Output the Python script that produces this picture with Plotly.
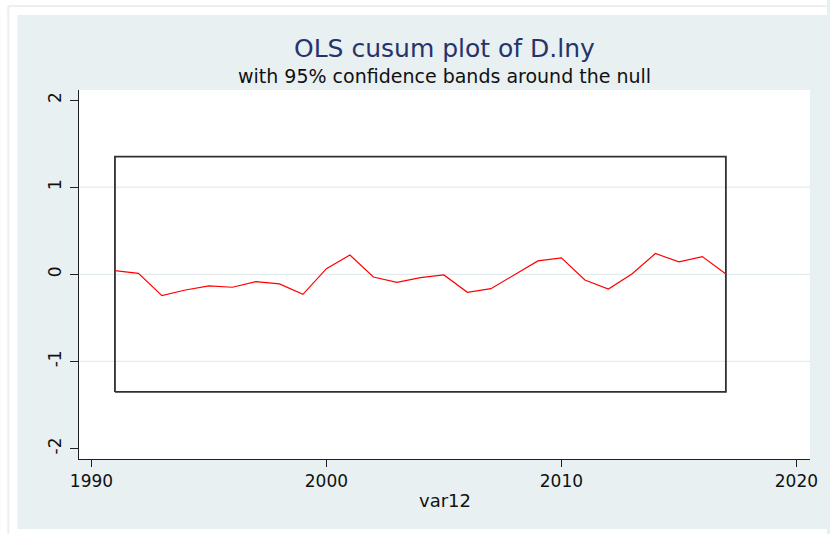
import plotly.graph_objects as go

# ---- data ----
years = list(range(1991, 2018))
cusum = [0.042, 0.011, -0.245, -0.18, -0.134, -0.149, -0.084, -0.111, -0.23,
         0.065, 0.222, -0.031, -0.092, -0.038, -0.008, -0.207, -0.165, -0.008,
         0.153, 0.188, -0.065, -0.169, 0.004, 0.238, 0.142, 0.203, 0.004]
band_years = [1991, 2017]
band_upper = 1.35
band_lower = -1.35
x_ticks = [1990, 2000, 2010, 2020]
y_ticks = [-2, -1, 0, 1, 2]
grid_vals = [-1, 0, 1]

W, H = 830, 534
L, R, T, B = 79, 17, 90, 75
PANEL = "#e8f0f2"
FONT = "DejaVu Sans"

fig = go.Figure()

# confidence band box
bx = [band_years[0], band_years[0], band_years[1], band_years[1], band_years[0]]
by = [band_lower, band_upper, band_upper, band_lower, band_lower]
fig.add_trace(go.Scatter(x=bx, y=by, mode="lines",
                         line=dict(color="#303030", width=1.8),
                         showlegend=False, hoverinfo="skip"))
# cusum line
fig.add_trace(go.Scatter(x=years, y=cusum, mode="lines",
                         line=dict(color="#ff0000", width=1.2),
                         showlegend=False))

pw = W - L - R
ph = H - T - B
def px_x(p):
    return (p - L) / pw
def px_y(p):
    return (H - B - p) / ph

shapes = []
# gridlines
for g in grid_vals:
    shapes.append(dict(type="line", xref="paper", yref="y", x0=0, x1=1, y0=g, y1=g,
                       line=dict(color="#e2ebee", width=1.2), layer="below"))
# white outer frame (margins outside the panel)
shapes.append(dict(type="rect", xref="paper", yref="paper",
                   x0=px_x(0), x1=px_x(W), y0=px_y(15), y1=px_y(0),
                   fillcolor="white", line=dict(width=0), layer="below"))
shapes.append(dict(type="rect", xref="paper", yref="paper",
                   x0=px_x(0), x1=px_x(17), y0=px_y(H), y1=px_y(0),
                   fillcolor="white", line=dict(width=0), layer="below"))
shapes.append(dict(type="rect", xref="paper", yref="paper",
                   x0=px_x(0), x1=px_x(W), y0=px_y(H), y1=px_y(529),
                   fillcolor="white", line=dict(width=0), layer="below"))
# faint outer frame line
shapes.append(dict(type="line", xref="paper", yref="paper",
                   x0=px_x(8), x1=px_x(W), y0=px_y(6), y1=px_y(6),
                   line=dict(color="#eeeeee", width=2), layer="below"))
shapes.append(dict(type="line", xref="paper", yref="paper",
                   x0=px_x(8), x1=px_x(8), y0=px_y(H), y1=px_y(6),
                   line=dict(color="#eeeeee", width=2), layer="below"))

annotations = [
    dict(text="OLS cusum plot of D.lny", xref="paper", yref="paper",
         x=0.5, y=px_y(48), xanchor="center", yanchor="middle", showarrow=False,
         font=dict(family=FONT, size=25, color="#26346a")),
    dict(text="with 95% confidence bands around the null", xref="paper", yref="paper",
         x=0.5, y=px_y(76), xanchor="center", yanchor="middle", showarrow=False,
         font=dict(family=FONT, size=19, color="#111111")),
    dict(text="var12", xref="paper", yref="paper",
         x=0.5, y=px_y(500), xanchor="center", yanchor="middle", showarrow=False,
         font=dict(family=FONT, size=18, color="#111111")),
]

fig.update_layout(
    width=W, height=H,
    margin=dict(l=L, r=R, t=T, b=B, pad=0),
    paper_bgcolor=PANEL, plot_bgcolor="white",
    shapes=shapes, annotations=annotations,
    font=dict(family=FONT, color="#111111"),
    xaxis=dict(range=[1989.47, 2020.58], tickvals=x_ticks, ticktext=[str(v) for v in x_ticks],
               showgrid=False, zeroline=False, showline=True, linecolor="#202020", linewidth=1,
               ticks="outside", ticklen=7, tickcolor="#202020", tickwidth=1,
               tickfont=dict(family=FONT, size=17, color="#111111")),
    yaxis=dict(range=[-2.12, 2.115], tickvals=y_ticks, ticktext=[str(v) for v in y_ticks],
               showgrid=False, zeroline=False, showline=True, linecolor="#202020", linewidth=1,
               ticks="outside", ticklen=8, tickcolor="#202020", tickwidth=1, tickangle=-90,
               ticklabelstandoff=2,
               tickfont=dict(family=FONT, size=17, color="#111111")),
)

fig.write_html("out.html", config={"displayModeBar": False},
               post_script="document.body.style.margin='0';document.body.style.padding='0';")
